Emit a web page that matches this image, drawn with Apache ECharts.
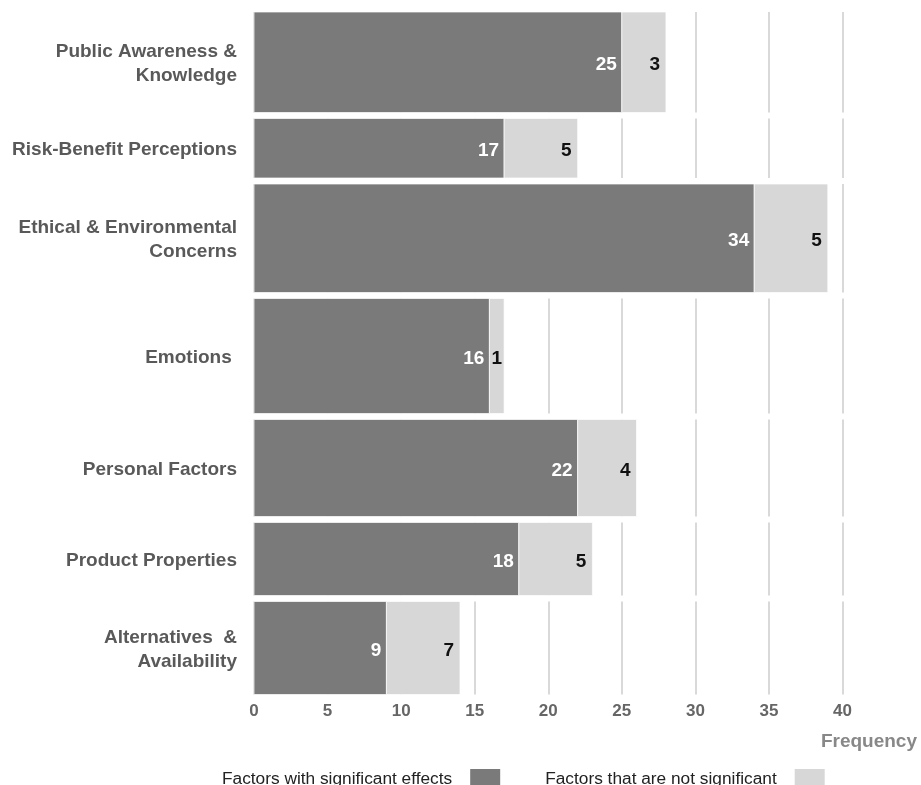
<!DOCTYPE html>
<html>
<head>
<meta charset="utf-8">
<script src="https://cdn.jsdelivr.net/npm/echarts@6/dist/echarts.min.js"></script>
<style>
  html, body { margin: 0; padding: 0; background: #fff; }
  #chart { width: 921px; height: 785px; }
</style>
</head>
<body>
<div id="chart"></div>
<script>
// ---- Data ----
const categories = [
  'Public Awareness &\nKnowledge',
  'Risk-Benefit Perceptions',
  'Ethical & Environmental\nConcerns',
  'Emotions ',
  'Personal Factors',
  'Product Properties',
  'Alternatives  &\nAvailability'
];
// bar lengths as drawn in the picture
const significant = [25, 17, 34, 16, 22, 18, 9];
const notSignificant = [3, 5, 5, 1, 4, 5, 5];
// numbers printed on the bars
const significantLabels = [25, 17, 34, 16, 22, 18, 9];
const notSignificantLabels = [3, 5, 5, 1, 4, 5, 7];
const seriesNames = ['Factors with significant effects', 'Factors that are not significant'];
const axisName = 'Frequency';

// ---- Layout (row band thicknesses, in y-axis units) ----
const rowHeights = [100.5, 59.5, 108.5, 115, 97, 73, 93];
const rowGap = 6;
const rowTops = [];
(function () { let acc = 0; rowHeights.forEach(h => { rowTops.push(acc); acc += h + rowGap; }); })();
const yMax = rowTops[rowTops.length - 1] + rowHeights[rowHeights.length - 1];

const DARK = '#7a7a7a', LIGHT = '#d7d7d7';
const labelFont = 'bold 19px "Liberation Sans Narrow", "Arial Narrow", "Liberation Sans", Arial, sans-serif';
const catFont = 'bold 19px "Liberation Sans", Arial, sans-serif';

function makeRender(isFirst) {
  const labels = isFirst ? significantLabels : notSignificantLabels;
  return function (params, api) {
    const start = api.value(0), end = api.value(1), i = api.value(2);
    const top = rowTops[i], bottom = top + rowHeights[i];
    const p0 = api.coord([start, top]);
    const p1 = api.coord([end, bottom]);
    const cs = params.coordSys;
    const w = p1[0] - p0[0], h = p1[1] - p0[1];
    const cy = (p0[1] + p1[1]) / 2;
    const children = [];
    if (isFirst && i < rowHeights.length - 1) {
      const g1 = api.coord([0, bottom]);
      const g2 = api.coord([0, bottom + rowGap]);
      children.push({ type: 'rect', shape: { x: cs.x - 2, y: g1[1], width: cs.width + 4, height: g2[1] - g1[1] },
        style: { fill: '#fff' }, z2: 0 });
    }
    children.push({
      type: 'rect',
      shape: { x: p0[0], y: p0[1], width: w, height: h },
      style: { fill: isFirst ? DARK : LIGHT, stroke: 'rgba(255,255,255,0.7)', lineWidth: 1 },
      z2: 1
    });
    const narrow = w < 30;
    children.push({
      type: 'text',
      style: {
        text: String(labels[i]),
        x: narrow ? p0[0] + w / 2 : p1[0] - (isFirst ? 5 : 6),
        y: cy + 3,
        align: narrow ? 'center' : 'right',
        verticalAlign: 'middle',
        font: labelFont,
        fill: isFirst ? '#ffffff' : '#111111'
      },
      z2: 2
    });
    if (isFirst) {
      children.push({
        type: 'text',
        style: {
          text: categories[i],
          x: cs.x - 17,
          y: cy + 2,
          align: 'right',
          verticalAlign: 'middle',
          font: catFont,
          lineHeight: 24,
          fill: '#595959'
        },
        z2: 2
      });
    }
    return { type: 'group', children: children };
  };
}

const chart = echarts.init(document.getElementById('chart'));
chart.setOption({
  animation: false,
  backgroundColor: '#fff',
  grid: { left: 254, right: 78.5, top: 12, bottom: 785 - 12 - yMax },
  xAxis: {
    type: 'value', min: 0, max: 40, interval: 5, position: 'bottom',
    axisLine: { show: false, onZero: false }, axisTick: { show: false },
    splitLine: { show: true, lineStyle: { color: '#d9d9d9', width: 2 } },
    axisLabel: { margin: 8, color: '#666', fontSize: 17, fontWeight: 'bold', fontFamily: 'Liberation Sans, Arial, sans-serif' },
    name: axisName,
    nameLocation: 'end',
    nameGap: 74.5,
    nameTextStyle: { align: 'right', verticalAlign: 'top', padding: [38, 0, 0, 0], color: '#888', fontSize: 19, fontWeight: 'bold', fontFamily: 'Liberation Sans, Arial, sans-serif' }
  },
  yAxis: {
    type: 'value', min: 0, max: yMax, inverse: true,
    show: false, splitLine: { show: false }
  },
  legend: {
    left: 217, top: 764,
    itemWidth: 30, itemHeight: 20, itemGap: 45,
    align: 'right', icon: 'rect',
    selectedMode: false,
    textStyle: { fontSize: 17.3, color: '#222', fontFamily: 'Liberation Sans, Arial, sans-serif', padding: [0, 13, 0, 0] },
    data: seriesNames
  },
  series: [
    {
      name: seriesNames[0], type: 'custom', clip: false,
      itemStyle: { color: DARK },
      renderItem: makeRender(true),
      encode: { x: [0, 1] },
      data: significant.map((v, i) => [0, v, i])
    },
    {
      name: seriesNames[1], type: 'custom', clip: false,
      itemStyle: { color: LIGHT },
      renderItem: makeRender(false),
      encode: { x: [0, 1] },
      data: notSignificant.map((v, i) => [significant[i], significant[i] + v, i])
    }
  ]
});
</script>
</body>
</html>
